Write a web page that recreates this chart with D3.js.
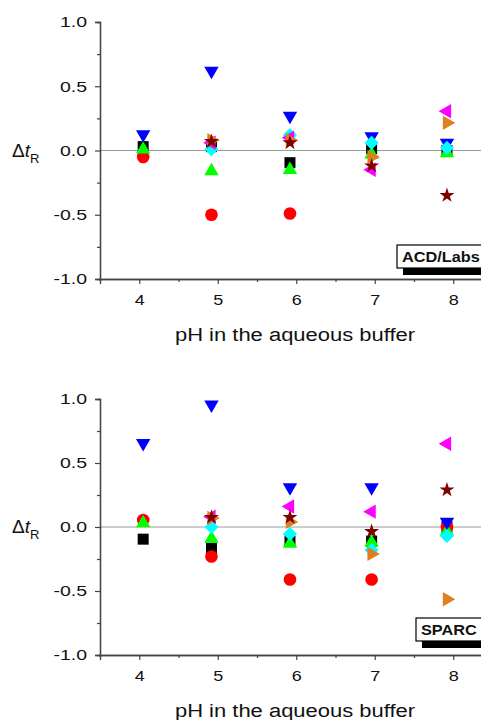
<!DOCTYPE html>
<html>
<head>
<meta charset="utf-8">
<script src="https://cdn.jsdelivr.net/npm/d3@7"></script>
<style>
  body { margin: 0; background: #fff; }
  svg { display: block; font-family: "Liberation Sans", Arial, sans-serif; }
</style>
</head>
<body>
<div class="chart"></div>
<script>
var svgWidth = 481;
var svgHeight = 720;

// pH of the measurements (markers sit a little off the integer ticks)
var phValues = [4.05, 4.92, 5.92, 6.96, 7.92];
var xTicks = [4, 5, 6, 7, 8];
var yTicks = [-1, -0.5, 0, 0.5, 1];
var yTickLabels = ["-1.0", "-0.5", "0.0", "0.5", "1.0"];

// marker order = drawing order
var markerNames = ["square", "circle", "up", "down", "diamond", "left", "right", "star"];
var markerColors = ["#000000", "#ff0000", "#00ff00", "#0000ff", "#00ffff", "#ff00ff", "#dc8020", "#800000"];

// ACD/Labs panel
var acdSquare  = [0.03, 0.03, -0.095, 0.015, 0.00];
var acdCircle  = [-0.05, -0.50, -0.49, null, null];
var acdUp      = [0.01, -0.16, -0.15, -0.03, -0.02];
var acdDown    = [0.125, 0.62, 0.27, 0.11, 0.06];
var acdDiamond = [null, 0.01, 0.12, 0.06, 0.02];
var acdLeft    = [null, 0.06, 0.10, -0.15, 0.305];
var acdRight   = [null, 0.08, 0.08, -0.05, 0.215];
var acdStar    = [null, 0.07, 0.06, -0.12, -0.35];

// SPARC panel
var sparcSquare  = [-0.095, -0.165, -0.11, -0.11, 0.00];
var sparcCircle  = [0.055, -0.23, -0.41, -0.41, 0.00];
var sparcUp      = [0.03, -0.09, -0.13, -0.12, -0.035];
var sparcDown    = [0.655, 0.955, 0.31, 0.31, 0.04];
var sparcDiamond = [null, 0.00, -0.055, -0.18, -0.07];
var sparcLeft    = [null, 0.08, 0.16, 0.12, 0.65];
var sparcRight   = [null, 0.07, 0.04, -0.21, -0.565];
var sparcStar    = [null, 0.075, 0.075, -0.035, 0.29];

var panels = [
  { label: "ACD/Labs", top: 22, bottom: 279, boxX: 397, boxUp: 34,
    series: [acdSquare, acdCircle, acdUp, acdDown, acdDiamond, acdLeft, acdRight, acdStar] },
  { label: "SPARC", top: 399, bottom: 655, boxX: 416, boxUp: 37,
    series: [sparcSquare, sparcCircle, sparcUp, sparcDown, sparcDiamond, sparcLeft, sparcRight, sparcStar] }
];

var svg = d3.select(".chart").append("svg")
  .attr("width", svgWidth)
  .attr("height", svgHeight);

// x axis starts at pH 3.5, runs off the right edge like the source
var xScale = d3.scaleLinear().domain([3.5, 8.5]).range([100, 492.5]);

var tri = d3.symbol(d3.symbolTriangle, 90)();
var shapes = {
  square:  { d: d3.symbol(d3.symbolSquare, 121)(), rot: 0 },
  circle:  { d: d3.symbol(d3.symbolCircle, 125)(), rot: 0 },
  up:      { d: tri, rot: 0 },
  down:    { d: tri, rot: 180 },
  diamond: { d: d3.symbol(d3.symbolSquare, 100)(), rot: 45 },
  left:    { d: tri, rot: -90 },
  right:   { d: tri, rot: 90 },
  star:    { d: d3.symbol(d3.symbolStar, 70)(), rot: 0 }
};

// the source text is horizontally wider than Liberation Sans
function stretch(sel, k) {
  sel.each(function() {
    var w = this.getComputedTextLength();
    d3.select(this).attr("textLength", w * k).attr("lengthAdjust", "spacingAndGlyphs");
  });
}

panels.forEach(function(p) {
  var yScale = d3.scaleLinear().domain([-1, 1]).range([p.bottom, p.top]);
  var g = svg.append("g");

  // zero line
  g.append("line")
    .attr("x1", xScale(3.5)).attr("x2", svgWidth)
    .attr("y1", yScale(0)).attr("y2", yScale(0))
    .attr("stroke", "#9a9a9a").attr("stroke-width", 1);

  // minor ticks
  var yMinor = g.append("g").attr("transform", "translate(100,0)")
    .call(d3.axisLeft(yScale).tickValues([-0.75, -0.25, 0.25, 0.75]).tickSize(3).tickFormat(""));
  var xMinor = g.append("g").attr("transform", `translate(0,${p.bottom})`)
    .call(d3.axisBottom(xScale).tickValues([4.5, 5.5, 6.5, 7.5]).tickSize(3).tickFormat(""));

  var yAxis = g.append("g").attr("transform", "translate(100,0)")
    .call(d3.axisLeft(yScale).tickValues(yTicks).tickSize(5).tickPadding(8)
      .tickFormat((d, i) => yTickLabels[i]));
  var xAxis = g.append("g").attr("transform", `translate(0,${p.bottom})`)
    .call(d3.axisBottom(xScale).tickValues(xTicks).tickSize(5).tickPadding(10)
      .tickFormat(d3.format("d")));

  [yMinor, xMinor, yAxis, xAxis].forEach(function(a) {
    a.select(".domain").attr("stroke", "#444").attr("stroke-width", 1.3);
    a.selectAll(".tick line").attr("stroke", "#444").attr("stroke-width", 1.2);
  });
  yAxis.selectAll("text").attr("font-size", 15).attr("fill", "#111").attr("font-family", null);
  xAxis.selectAll("text").attr("font-size", 15).attr("fill", "#111").attr("font-family", null);
  stretch(yAxis.selectAll("text"), 1.3);
  stretch(xAxis.selectAll("text"), 1.2);

  // y label
  var yl = g.append("text")
    .attr("x", 12).attr("y", yScale(0) + 6)
    .attr("font-size", 19).attr("fill", "#111");
  yl.append("tspan").text("Δ");
  yl.append("tspan").attr("font-style", "italic").text("t");
  yl.append("tspan").attr("font-size", 13).attr("dy", 6).text("R");

  // x title
  var xt = g.append("text")
    .attr("x", 295).attr("y", p.bottom + 62)
    .attr("text-anchor", "middle")
    .attr("font-size", 18).attr("fill", "#111")
    .text("pH in the aqueous buffer");
  stretch(xt, 1.22);

  // method label box with shadow
  var bx = p.boxX;
  var by = p.bottom - p.boxUp;
  g.append("rect").attr("x", bx + 6).attr("y", by + 6).attr("width", 120).attr("height", 24)
    .attr("fill", "#000");
  g.append("rect").attr("x", bx).attr("y", by).attr("width", 120).attr("height", 23)
    .attr("fill", "#fff").attr("stroke", "#000").attr("stroke-width", 1.2);
  var lt = g.append("text")
    .attr("x", bx + 5).attr("y", by + 17)
    .attr("font-size", 15.5).attr("font-weight", "bold").attr("fill", "#111")
    .text(p.label);
  stretch(lt, 1.05);

  // markers
  p.series.forEach(function(vals, si) {
    var shape = shapes[markerNames[si]];
    var pts = vals.map((v, i) => ({ x: phValues[i], y: v })).filter(d => d.y !== null);
    g.append("g").selectAll("path")
      .data(pts)
      .enter()
      .append("path")
      .attr("d", shape.d)
      .attr("transform", d => `translate(${xScale(d.x)},${yScale(d.y)}) rotate(${shape.rot})`)
      .attr("fill", markerColors[si]);
  });
});
</script>
</body>
</html>
